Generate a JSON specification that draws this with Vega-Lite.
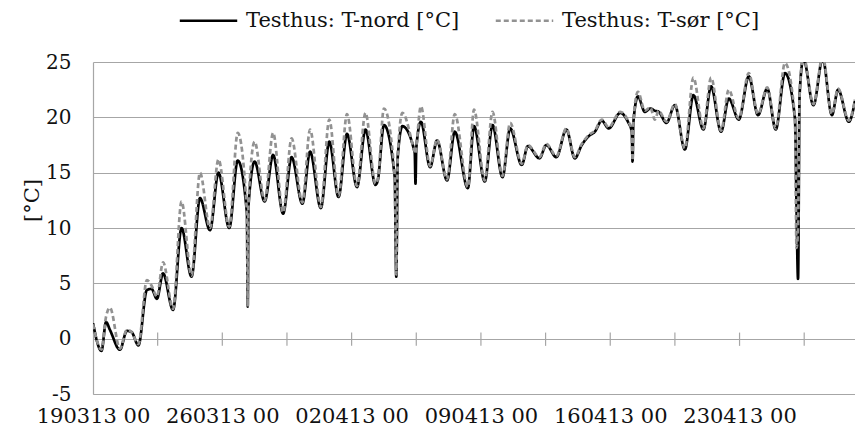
{
  "$schema": "https://vega.github.io/schema/vega-lite/v6.json",
  "autosize": "none",
  "width": 762,
  "height": 332,
  "padding": {"left": 93, "top": 62, "right": 0, "bottom": 47},
  "background": "white",
  "config": {
    "view": {"stroke": null},
    "font": "DejaVu Serif",
    "axis": {"labelFont": "DejaVu Serif", "labelFontSize": 21, "labelColor": "#111", "titleFont": "DejaVu Serif", "titleFontWeight": "normal", "titleColor": "#111", "gridColor": "#a6a6a6", "gridWidth": 1.2, "domainColor": "#a6a6a6", "domainWidth": 1.2},
    "legend": {"orient": "none", "direction": "horizontal", "legendX": 85, "legendY": -72, "title": null, "labelFont": "DejaVu Serif", "labelFontSize": 21, "labelColor": "#111", "symbolType": "stroke", "symbolSize": 3300, "symbolStrokeWidth": 2.6, "labelOffset": 7, "columnPadding": 30, "labelLimit": 400}
  },
  "datasets": {
    "temp": [
      {"t":"2013-03-19T00:00","n":1.4,"s":1.3},
      {"t":"2013-03-19T11:00","n":-1.1,"s":-1.0},
      {"t":"2013-03-19T17:00","n":1.5,"s":2.0},
      {"t":"2013-03-19T22:00","n":0.8,"s":2.8},
      {"t":"2013-03-20T11:00","n":-1.0,"s":-0.9},
      {"t":"2013-03-20T20:00","n":0.7,"s":0.8},
      {"t":"2013-03-21T02:00","n":0.6,"s":0.6},
      {"t":"2013-03-21T11:00","n":-0.6,"s":-0.5},
      {"t":"2013-03-21T22:00","n":4.4,"s":5.3},
      {"t":"2013-03-22T04:00","n":4.5,"s":4.8},
      {"t":"2013-03-22T11:00","n":3.6,"s":3.8},
      {"t":"2013-03-22T19:00","n":5.9,"s":6.9},
      {"t":"2013-03-23T08:00","n":2.6,"s":2.7},
      {"t":"2013-03-23T19:00","n":10.0,"s":12.4},
      {"t":"2013-03-24T08:00","n":5.6,"s":5.7},
      {"t":"2013-03-24T19:00","n":12.7,"s":15.0},
      {"t":"2013-03-25T08:00","n":9.8,"s":10.0},
      {"t":"2013-03-25T19:00","n":15.0,"s":16.2},
      {"t":"2013-03-26T09:00","n":10.0,"s":10.1},
      {"t":"2013-03-26T20:00","n":16.1,"s":18.6},
      {"t":"2013-03-27T08:00","n":11.3,"s":11.4},
      {"t":"2013-03-27T09:00","n":2.9,"s":2.9},
      {"t":"2013-03-27T10:00","n":12.0,"s":12.2},
      {"t":"2013-03-27T18:00","n":16.0,"s":17.8},
      {"t":"2013-03-28T07:00","n":12.4,"s":12.5},
      {"t":"2013-03-28T18:00","n":16.6,"s":18.6},
      {"t":"2013-03-29T07:00","n":11.3,"s":11.4},
      {"t":"2013-03-29T18:00","n":16.4,"s":18.1},
      {"t":"2013-03-30T08:00","n":12.2,"s":12.3},
      {"t":"2013-03-30T18:00","n":16.9,"s":18.9},
      {"t":"2013-03-31T08:00","n":11.8,"s":11.9},
      {"t":"2013-03-31T19:00","n":17.8,"s":19.8},
      {"t":"2013-04-01T07:00","n":12.8,"s":12.9},
      {"t":"2013-04-01T18:00","n":18.5,"s":20.3},
      {"t":"2013-04-02T07:00","n":13.7,"s":13.8},
      {"t":"2013-04-02T18:00","n":18.9,"s":20.4},
      {"t":"2013-04-03T07:00","n":13.9,"s":14.0},
      {"t":"2013-04-03T10:00","n":14.3,"s":14.4},
      {"t":"2013-04-03T18:00","n":19.3,"s":20.8},
      {"t":"2013-04-04T08:00","n":14.6,"s":14.7},
      {"t":"2013-04-04T10:00","n":5.6,"s":5.8},
      {"t":"2013-04-04T12:00","n":16.5,"s":16.6},
      {"t":"2013-04-04T18:00","n":19.2,"s":20.4},
      {"t":"2013-04-05T10:00","n":16.8,"s":16.9},
      {"t":"2013-04-05T11:00","n":14.0,"s":16.7},
      {"t":"2013-04-05T12:00","n":17.2,"s":17.3},
      {"t":"2013-04-05T18:00","n":19.6,"s":21.0},
      {"t":"2013-04-06T06:00","n":15.5,"s":15.6},
      {"t":"2013-04-06T15:00","n":17.9,"s":18.0},
      {"t":"2013-04-07T04:00","n":14.3,"s":14.4},
      {"t":"2013-04-07T14:00","n":18.7,"s":20.3},
      {"t":"2013-04-08T07:00","n":13.6,"s":13.7},
      {"t":"2013-04-08T15:00","n":19.2,"s":20.7},
      {"t":"2013-04-09T05:00","n":14.2,"s":14.3},
      {"t":"2013-04-09T15:00","n":19.3,"s":20.5},
      {"t":"2013-04-10T04:00","n":14.6,"s":14.7},
      {"t":"2013-04-10T14:00","n":19.0,"s":19.5},
      {"t":"2013-04-11T05:00","n":15.7,"s":15.8},
      {"t":"2013-04-11T13:00","n":17.4,"s":17.5},
      {"t":"2013-04-12T04:00","n":16.3,"s":16.4},
      {"t":"2013-04-12T13:00","n":17.5,"s":17.6},
      {"t":"2013-04-13T02:00","n":16.4,"s":16.5},
      {"t":"2013-04-13T15:00","n":18.9,"s":19.0},
      {"t":"2013-04-14T02:00","n":16.3,"s":16.4},
      {"t":"2013-04-14T11:00","n":17.5,"s":17.6},
      {"t":"2013-04-14T20:00","n":18.3,"s":18.4},
      {"t":"2013-04-15T04:00","n":18.7,"s":18.8},
      {"t":"2013-04-15T13:00","n":19.7,"s":19.8},
      {"t":"2013-04-15T22:00","n":19.0,"s":19.1},
      {"t":"2013-04-16T13:00","n":20.4,"s":20.5},
      {"t":"2013-04-16T23:00","n":19.6,"s":19.7},
      {"t":"2013-04-17T04:00","n":18.7,"s":18.8},
      {"t":"2013-04-17T05:00","n":16.0,"s":16.1},
      {"t":"2013-04-17T06:00","n":19.5,"s":19.6},
      {"t":"2013-04-17T12:00","n":21.9,"s":22.3},
      {"t":"2013-04-17T21:00","n":20.5,"s":20.6},
      {"t":"2013-04-18T04:00","n":20.8,"s":20.9},
      {"t":"2013-04-18T10:00","n":20.6,"s":19.8},
      {"t":"2013-04-18T15:00","n":20.5,"s":20.6},
      {"t":"2013-04-19T01:00","n":19.5,"s":19.6},
      {"t":"2013-04-19T12:00","n":21.1,"s":21.2},
      {"t":"2013-04-20T01:00","n":17.1,"s":17.2},
      {"t":"2013-04-20T12:00","n":22.0,"s":23.6},
      {"t":"2013-04-21T01:00","n":18.9,"s":19.0},
      {"t":"2013-04-21T11:00","n":22.8,"s":23.6},
      {"t":"2013-04-22T00:00","n":18.7,"s":18.8},
      {"t":"2013-04-22T10:00","n":21.7,"s":22.5},
      {"t":"2013-04-22T23:00","n":19.8,"s":19.9},
      {"t":"2013-04-23T12:00","n":23.7,"s":24.0},
      {"t":"2013-04-24T00:00","n":20.2,"s":20.3},
      {"t":"2013-04-24T12:00","n":22.6,"s":22.7},
      {"t":"2013-04-24T23:00","n":18.9,"s":19.0},
      {"t":"2013-04-25T11:00","n":24.0,"s":24.9},
      {"t":"2013-04-26T00:00","n":19.9,"s":20.0},
      {"t":"2013-04-26T02:00","n":12.0,"s":8.2},
      {"t":"2013-04-26T04:00","n":5.4,"s":10.0},
      {"t":"2013-04-26T06:00","n":22.0,"s":22.0},
      {"t":"2013-04-26T11:00","n":25.3,"s":25.5},
      {"t":"2013-04-27T00:00","n":21.1,"s":21.2},
      {"t":"2013-04-27T12:00","n":25.3,"s":25.5},
      {"t":"2013-04-28T00:00","n":20.2,"s":20.3},
      {"t":"2013-04-28T08:00","n":22.5,"s":22.6},
      {"t":"2013-04-28T22:00","n":19.6,"s":19.7},
      {"t":"2013-04-29T06:00","n":21.5,"s":21.6}
    ],
    "ticks": [
      {"t":"2013-03-22T12:00"},{"t":"2013-03-26T00:00"},{"t":"2013-03-29T12:00"},{"t":"2013-04-02T00:00"},
      {"t":"2013-04-05T12:00"},{"t":"2013-04-09T00:00"},{"t":"2013-04-12T12:00"},{"t":"2013-04-16T00:00"},
      {"t":"2013-04-19T12:00"},{"t":"2013-04-23T00:00"},{"t":"2013-04-26T12:00"}
    ]
  },
  "layer": [
    {
      "data": {"name": "temp"},
      "transform": [{"fold": ["n", "s"], "as": ["k", "v"]}],
      "mark": {"type": "line", "interpolate": "monotone", "strokeWidth": 2.7, "clip": true},
      "encoding": {
        "x": {
          "field": "t", "type": "temporal",
          "scale": {"domain": [{"year": 2013, "month": 3, "date": 19}, {"year": 2013, "month": 4, "date": 29, "hours": 6}]},
          "axis": {
            "title": null, "format": "%d%m%y %H", "grid": false, "ticks": false, "labelPadding": 11, "labelFlush": false,
            "values": [{"year": 2013, "month": 3, "date": 19}, {"year": 2013, "month": 3, "date": 26}, {"year": 2013, "month": 4, "date": 2}, {"year": 2013, "month": 4, "date": 9}, {"year": 2013, "month": 4, "date": 16}, {"year": 2013, "month": 4, "date": 23}],
            "labelOverlap": false
          }
        },
        "y": {
          "field": "v", "type": "quantitative",
          "scale": {"domain": [-5, 25], "nice": false},
          "axis": {"title": "[°C]", "titleFontSize": 21, "titleAngle": -90, "titleAlign": "center", "titleBaseline": "middle", "titleX": -61, "titleY": 138, "values": [-5, 0, 5, 10, 15, 20, 25], "labelExpr": "'' + datum.value", "labelFontSize": 20, "ticks": false, "labelPadding": 22, "labelFlush": false, "grid": true}
        },
        "color": {
          "field": "k", "type": "nominal",
          "scale": {"domain": ["n", "s"], "range": ["#000000", "#929292"]},
          "legend": {"labelExpr": "datum.label == 'n' ? 'Testhus: T-nord [°C]' : 'Testhus: T-sør [°C]'"}
        },
        "strokeDash": {
          "field": "k", "type": "nominal",
          "scale": {"domain": ["n", "s"], "range": [[1, 0], [5, 3]]},
          "legend": {"labelExpr": "datum.label == 'n' ? 'Testhus: T-nord [°C]' : 'Testhus: T-sør [°C]'"}
        }
      }
    },
    {
      "data": {"name": "ticks"},
      "mark": {"type": "rule", "color": "#a6a6a6", "strokeWidth": 1.2},
      "encoding": {
        "x": {"field": "t", "type": "temporal"},
        "y": {"datum": 0.55},
        "y2": {"datum": -0.65}
      }
    }
  ]
}
